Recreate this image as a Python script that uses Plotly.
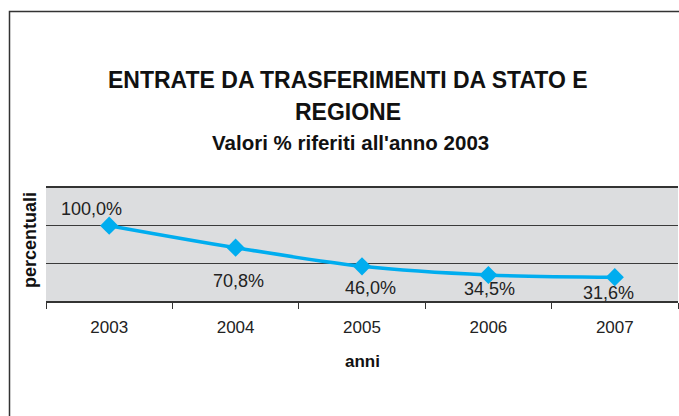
import plotly.graph_objects as go

# ---- data ----
years = ["2003", "2004", "2005", "2006", "2007"]
values = [100.0, 70.8, 46.0, 34.5, 31.6]
title_line1 = "ENTRATE DA TRASFERIMENTI DA STATO E"
title_line2 = "REGIONE"
subtitle = "Valori % riferiti all'anno 2003"
x_title = "anni"
y_title = "percentuali"

labels = [f"{v:.1f}%".replace(".", ",") for v in values]

# ---- layout geometry (screen pixels) ----
W, H = 679, 416
PL, PR, PT, PB = 46, 678, 188, 301  # plot area edges


def px_x(p):
    return (p - PL) / (PR - PL)


def px_y(p):
    return (PB - p) / (PB - PT)


FONT = "Liberation Sans, Arial, Helvetica, sans-serif"
LINE_COLOR = "#00ADEF"

# per-label pixel offsets (x, y up) relative to each point
label_shift = [(-18, 17), (3, -33), (8, -22), (1, -14), (-6, -16)]

fig = go.Figure()
fig.add_trace(go.Scatter(
    x=years, y=values, mode="lines+markers",
    line=dict(color=LINE_COLOR, width=3.5, shape="spline", smoothing=0.9),
    marker=dict(symbol="diamond", size=14, color=LINE_COLOR),
    hoverinfo="skip", showlegend=False,
))

annotations = []
for i, (v, t, (dx, dy)) in enumerate(zip(values, labels, label_shift)):
    annotations.append(dict(
        x=i, y=v, xref="x", yref="y", text=t, showarrow=False,
        xshift=dx, yshift=dy, xanchor="center", yanchor="middle",
        font=dict(family=FONT, size=18, color="#222222"),
    ))

cx = px_x(348)
annotations += [
    dict(x=cx, y=px_y(80), xref="paper", yref="paper", text=f"<b>{title_line1}</b>",
         showarrow=False, xanchor="center", yanchor="middle",
         font=dict(family=FONT, size=23, color="#111111")),
    dict(x=cx, y=px_y(112), xref="paper", yref="paper", text=f"<b>{title_line2}</b>",
         showarrow=False, xanchor="center", yanchor="middle",
         font=dict(family=FONT, size=23, color="#111111")),
    dict(x=px_x(350), y=px_y(142), xref="paper", yref="paper", text=f"<b>{subtitle}</b>",
         showarrow=False, xanchor="center", yanchor="middle",
         font=dict(family=FONT, size=20.5, color="#111111")),
    dict(x=px_x(362), y=px_y(361), xref="paper", yref="paper", text=f"<b>{x_title}</b>",
         showarrow=False, xanchor="center", yanchor="middle",
         font=dict(family=FONT, size=17, color="#111111")),
    dict(x=px_x(30), y=px_y(240), xref="paper", yref="paper", text=f"<b>{y_title}</b>",
         showarrow=False, xanchor="center", yanchor="middle", textangle=-90,
         font=dict(family=FONT, size=18, color="#111111")),
]

shapes = [
    dict(type="rect", xref="paper", yref="paper",
         x0=px_x(9.5), x1=px_x(700), y0=px_y(440), y1=px_y(11.5),
         line=dict(color="#333333", width=1.5), fillcolor="rgba(0,0,0,0)", layer="below"),
]

fig.update_layout(
    width=W, height=H, autosize=False,
    margin=dict(l=PL, r=W - PR, t=PT, b=H - PB, pad=0),
    paper_bgcolor="white", plot_bgcolor="#DCDDDF",
    annotations=annotations, shapes=shapes,
    font=dict(family=FONT, color="#222222"),
)
fig.update_xaxes(
    type="category", range=[-0.5, 4.5], tickson="boundaries",
    ticks="outside", ticklen=6, tickwidth=1, tickcolor="#333333",
    showline=True, linecolor="#333333", linewidth=1.5, mirror=True,
    showgrid=False, tickfont=dict(family=FONT, size=17, color="#222222"),
    ticklabelstandoff=10,
)
fig.update_yaxes(
    range=[0, 150], dtick=50, showticklabels=False, ticks="",
    showgrid=True, gridcolor="#3A3A3A", gridwidth=1, zeroline=False,
    showline=False,
)

fig.write_html(
    "out.html",
    config={"displayModeBar": False},
    post_script="document.body.style.margin='0';document.body.style.overflow='hidden';",
)
